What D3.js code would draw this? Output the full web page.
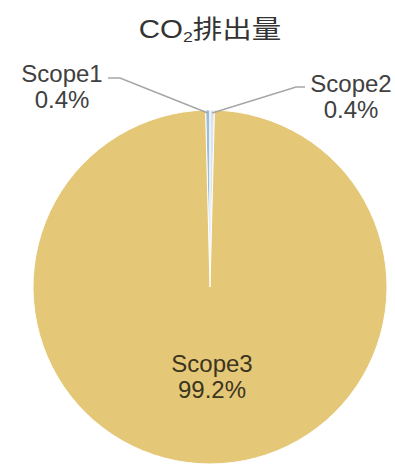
<!DOCTYPE html>
<html>
<head>
<meta charset="utf-8">
<script src="https://cdn.jsdelivr.net/npm/d3@7"></script>
<style>
  body { margin: 0; background: #fff; }
  text { font-family: Arial, "Liberation Sans", "Noto Sans CJK JP", sans-serif; }
</style>
</head>
<body>
<div id="chart"></div>
<script>
// data
const categories = ["Scope1", "Scope2", "Scope3"]
const values = [0.4, 0.4, 99.2]
const percentLabels = ["0.4%", "0.4%", "99.2%"]
const colors = ["#9dbcd9", "#d9e4ee", "#e5c877"]

const width = 395, height = 464
const cx = 210, cy = 287, r = 177

const svg = d3.select("#chart").append("svg")
    .attr("width", width)
    .attr("height", height)

// title, a bit wider than normal like the original
const title = svg.append("text")
    .attr("transform", "translate(210,38) scale(1.18,1)")
    .attr("text-anchor", "middle")
    .attr("fill", "#333")
    .style("font-size", "25px")
title.append("tspan").text("CO")
title.append("tspan").text("2").style("font-size", "15px").attr("dy", 4)
title.append("tspan").text("排出量").attr("dy", -4)
    .style("font-family", "'Noto Sans CJK JP', sans-serif")

const rows = categories.map((c, i) => ({ name: c, value: values[i], pct: percentLabels[i], color: colors[i] }))

// first two small slices straddle 12 o'clock
const offset = -values[0] / d3.sum(values) * 2 * Math.PI
const pie = d3.pie().sort(null).value(d => d.value)
    .startAngle(offset).endAngle(2 * Math.PI + offset)
const arcs = pie(rows)

const arc = d3.arc().innerRadius(0).outerRadius(r)
const edge = d3.arc().innerRadius(r - 3).outerRadius(r - 3)

const g = svg.append("g").attr("transform", "translate(" + cx + "," + cy + ")")

g.selectAll("path.slice").data(arcs).enter().append("path")
    .attr("class", "slice")
    .attr("d", arc)
    .attr("fill", d => d.data.color)
    .attr("stroke", "#fff")
    .attr("stroke-width", 1)

// leader lines + outside labels for the small slices
const outside = [
    { label: [62 - cx, 0], elbow: [108 - cx, 78 - cy], bend: [120 - cx, 78 - cy] },
    { label: [351 - cx, 0], elbow: [305 - cx, 87 - cy], bend: [296 - cx, 87 - cy] }
]

arcs.slice(0, 2).forEach((d, i) => {
    const o = outside[i]
    const p = edge.centroid(d)
    g.append("polyline")
        .attr("points", [p, o.bend, o.elbow].map(q => q.join(",")).join(" "))
        .attr("fill", "none")
        .attr("stroke", "#a6a6a6")
        .attr("stroke-width", 1.5)
})

const lblY = [82, 92]
arcs.slice(0, 2).forEach((d, i) => {
    const t = g.append("text")
        .attr("text-anchor", "middle")
        .attr("fill", "#404040")
        .style("font-size", "24px")
    t.append("tspan").attr("x", outside[i].label[0]).attr("y", lblY[i] - cy).text(d.data.name)
    t.append("tspan").attr("x", outside[i].label[0]).attr("y", lblY[i] - cy + 26).text(d.data.pct)
})

// big slice label inside
const big = arcs[2]
const c = arc.centroid(big)
const t3 = g.append("text")
    .attr("text-anchor", "middle")
    .attr("fill", "#3b3520")
    .style("font-size", "24px")
t3.append("tspan").attr("x", c[0] + 2).attr("y", c[1] - 4).text(big.data.name)
t3.append("tspan").attr("x", c[0] + 2).attr("y", c[1] + 22).text(big.data.pct)
</script>
</body>
</html>
